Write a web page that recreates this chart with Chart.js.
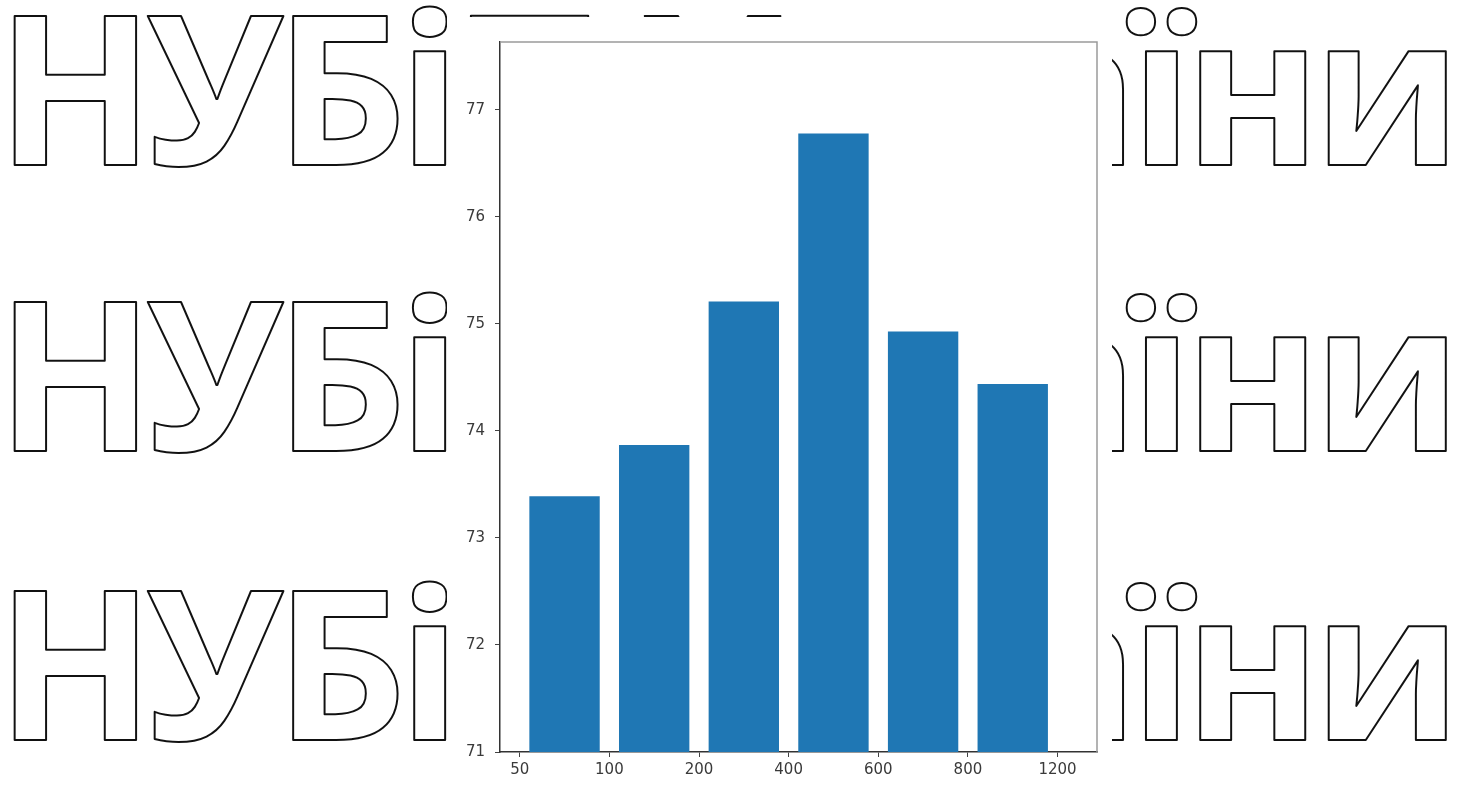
<!DOCTYPE html>
<html>
<head>
<meta charset="utf-8">
<script src="https://cdn.jsdelivr.net/npm/chart.js@4"></script>
<style>
  html, body { margin:0; padding:0; background:#fff; }
  body { width:1461px; height:785px; position:relative; overflow:hidden; }
  #wm { position:absolute; left:0; top:0; }
  #box { position:absolute; left:447px; top:17px; width:665px; height:768px; background:#fff; }
</style>
</head>
<body>
<svg id="wm" width="1461" height="785" xmlns="http://www.w3.org/2000/svg">
  <g font-family="Open Sans" font-weight="700" font-size="208" fill="none" stroke="#111" stroke-width="2" stroke-linejoin="round" letter-spacing="-9">
    <text x="-4" y="165" textLength="1457" lengthAdjust="spacingAndGlyphs">НУБіП України</text>
    <text x="-4" y="451" textLength="1457" lengthAdjust="spacingAndGlyphs">НУБіП України</text>
    <text x="-4" y="740" textLength="1457" lengthAdjust="spacingAndGlyphs">НУБіП України</text>
  </g>
</svg>
<div id="box"><canvas id="c"></canvas></div>
<script>
const tickLabels = ['50', '100', '200', '400', '600', '800', '1200'];
const barPositions = [0, 1, 2, 3, 4, 5];
const values = [73.39, 73.87, 75.21, 76.78, 74.93, 74.44];
const tickPositions = [-0.5, 0.5, 1.5, 2.5, 3.5, 4.5, 5.5];
const yTicks = [71, 72, 73, 74, 75, 76, 77];

const frame = {
  id: 'frame',
  afterDatasetsDraw(chart) {
    const a = chart.chartArea, ctx = chart.ctx;
    ctx.save();
    ctx.strokeStyle = '#9a9a9a';
    ctx.lineWidth = 1.5;
    ctx.beginPath();
    ctx.moveTo(a.left, a.top);
    ctx.lineTo(a.right, a.top);
    ctx.lineTo(a.right, a.bottom);
    ctx.stroke();
    ctx.restore();
  }
};

new Chart(document.getElementById('c'), {
  type: 'bar',
  data: {
    datasets: [{
      data: barPositions.map((x, i) => ({ x: x, y: values[i] })),
      backgroundColor: '#1f77b4',
      borderWidth: 0,
      categoryPercentage: 1,
      barPercentage: 0.785
    }]
  },
  options: {
    responsive: true,
    maintainAspectRatio: false,
    animation: false,
    layout: { padding: { top: 25, right: 15, left: 0, bottom: 0 } },
    plugins: { legend: { display: false }, tooltip: { enabled: false } },
    scales: {
      x: {
        type: 'linear',
        offset: false,
        min: -0.72,
        max: 5.94,
        afterBuildTicks: s => { s.ticks = tickPositions.map(v => ({ value: v })); },
        afterFit: s => { s.height = 33; },
        grid: { display: true, drawOnChartArea: false, drawTicks: true, tickLength: 5, color: '#444', offset: false },
        border: { display: true, color: '#333', width: 1.5 },
        ticks: {
          autoSkip: false, maxRotation: 0, padding: 4,
          color: '#3a3a3a', font: { family: 'DejaVu Sans', size: 15 },
          callback: (v, i) => tickLabels[i]
        }
      },
      y: {
        min: 71,
        max: 77.635,
        beginAtZero: false,
        afterBuildTicks: s => { s.ticks = yTicks.map(v => ({ value: v })); },
        afterFit: s => { s.width = 53; },
        grid: { display: true, drawOnChartArea: false, drawTicks: true, tickLength: 5, color: '#444' },
        border: { display: true, color: '#333', width: 1.5 },
        ticks: {
          padding: 10,
          color: '#3a3a3a', font: { family: 'DejaVu Sans', size: 15 },
          callback: v => String(v)
        }
      }
    }
  },
  plugins: [frame]
});
</script>
</body>
</html>
